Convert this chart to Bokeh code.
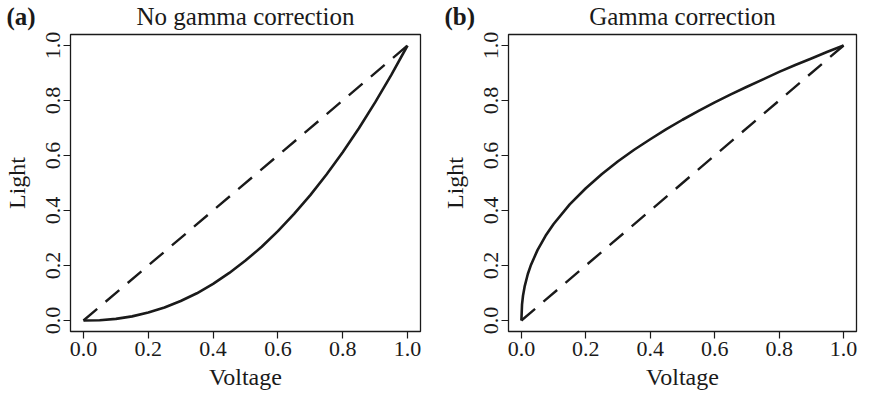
from bokeh.plotting import figure
from bokeh.models import Range1d, Label, FixedTicker, GridBox
from bokeh.embed import file_html
from bokeh.resources import INLINE

# ---- data ----
volt_a = [0.0, 0.05, 0.1, 0.15, 0.2, 0.25, 0.3, 0.35, 0.4, 0.45, 0.5,
          0.55, 0.6, 0.65, 0.7, 0.75, 0.8, 0.85, 0.9, 0.95, 1.0]
light_a = [0.0, 0.001, 0.006, 0.015, 0.029, 0.047, 0.071, 0.099, 0.133, 0.173, 0.218,
           0.268, 0.325, 0.388, 0.456, 0.531, 0.612, 0.699, 0.793, 0.893, 1.0]

volt_b = [0.0, 0.002, 0.005, 0.01, 0.02, 0.03, 0.05, 0.075, 0.1, 0.15, 0.2, 0.25,
          0.3, 0.35, 0.4, 0.45, 0.5, 0.55, 0.6, 0.65, 0.7, 0.75, 0.8, 0.85,
          0.9, 0.95, 1.0]
light_b = [0.0, 0.059, 0.090, 0.123, 0.169, 0.203, 0.256, 0.308, 0.351, 0.422, 0.481, 0.533,
           0.579, 0.621, 0.659, 0.696, 0.730, 0.762, 0.793, 0.822, 0.850, 0.877, 0.904, 0.929,
           0.953, 0.977, 1.0]

ref_x = [0.0, 1.0]
ref_y = [0.0, 1.0]

ticks = [0.0, 0.2, 0.4, 0.6, 0.8, 1.0]
tick_labels = {0.0: "0.0", 0.2: "0.2", 0.4: "0.4", 0.6: "0.6", 0.8: "0.8", 1.0: "1.0"}

panel_tags = ["(a)", "(b)"]
panel_titles = ["No gamma correction", "Gamma correction"]
x_label = "Voltage"
y_label = "Light"

FONT = "Liberation Serif"
INK = "#1a1a1a"

H = 392
WA, WB = 436, 422
A_LEFT, A_RIGHT = 70, 16
B_LEFT, B_RIGHT = 72, 2
TOP, BOTTOM = 34, 59


def make_panel(xs, ys, width, left, right):
    p = figure(width=width, height=H, output_backend="svg", toolbar_location=None,
               title_location=None, frame_align=False,
               x_range=Range1d(-0.04, 1.04), y_range=Range1d(-0.04, 1.04),
               min_border_left=left, min_border_right=right,
               min_border_top=TOP, min_border_bottom=BOTTOM)
    p.background_fill_color = "white"
    p.border_fill_color = "white"
    p.outline_line_color = INK
    p.outline_line_width = 1.3
    p.grid.visible = False

    for ax in (p.xaxis[0], p.yaxis[0]):
        ax.ticker = FixedTicker(ticks=ticks)
        ax.major_label_overrides = tick_labels
        ax.axis_line_color = None
        ax.major_tick_line_color = INK
        ax.major_tick_line_width = 1.2
        ax.major_tick_out = 7
        ax.major_tick_in = 0
        ax.minor_tick_line_color = None
        ax.major_label_text_font = FONT
        ax.major_label_text_font_size = "22px"
        ax.major_label_text_color = INK
        ax.axis_label_text_font = FONT
        ax.axis_label_text_font_size = "24px"
        ax.axis_label_text_font_style = "normal"
        ax.axis_label_text_color = INK
    p.xaxis.major_label_standoff = 3
    p.xaxis.axis_label_standoff = 5
    p.yaxis.major_label_standoff = 4
    p.yaxis.axis_label_standoff = 13
    p.xaxis.axis_label = x_label
    p.yaxis.axis_label = y_label
    p.yaxis.major_label_orientation = "vertical"

    p.line(ref_x, ref_y, line_color=INK, line_width=2.4, line_dash="18 11")
    p.line(xs, ys, line_color=INK, line_width=2.6)
    return p


pa = make_panel(volt_a, light_a, WA, A_LEFT, A_RIGHT)
pb = make_panel(volt_b, light_b, WB, B_LEFT, B_RIGHT)

# transparent overlay carrying the panel tags and titles
WT = WA + WB
ov = figure(width=WT, height=H, output_backend="svg", toolbar_location=None,
            title_location=None, x_axis_type=None, y_axis_type=None, frame_align=False,
            x_range=Range1d(0, WT), y_range=Range1d(0, H),
            min_border_left=0, min_border_right=0, min_border_top=0, min_border_bottom=0)
ov.background_fill_color = None
ov.border_fill_color = None
ov.outline_line_color = None
ov.grid.visible = False

title_base = H - 16
tag_base = H - 16
centers = [(A_LEFT + WA - A_RIGHT) / 2, WA + (B_LEFT + WB - B_RIGHT) / 2]
tag_x = [A_LEFT - 64, WA + B_LEFT - 64]
for i in range(2):
    ov.add_layout(Label(x=centers[i], y=title_base, text=panel_titles[i], text_font=FONT,
                        text_font_size="25px", text_align="center",
                        text_baseline="alphabetic", text_color=INK))
    ov.add_layout(Label(x=tag_x[i], y=tag_base, text=panel_tags[i], text_font=FONT,
                        text_font_size="25px", text_font_style="bold", text_align="left",
                        text_baseline="alphabetic", text_color=INK))

layout = GridBox(children=[(pa, 0, 0), (pb, 0, 1), (ov, 0, 0, 1, 2)])
open("out.html", "w").write(file_html(layout, INLINE))
